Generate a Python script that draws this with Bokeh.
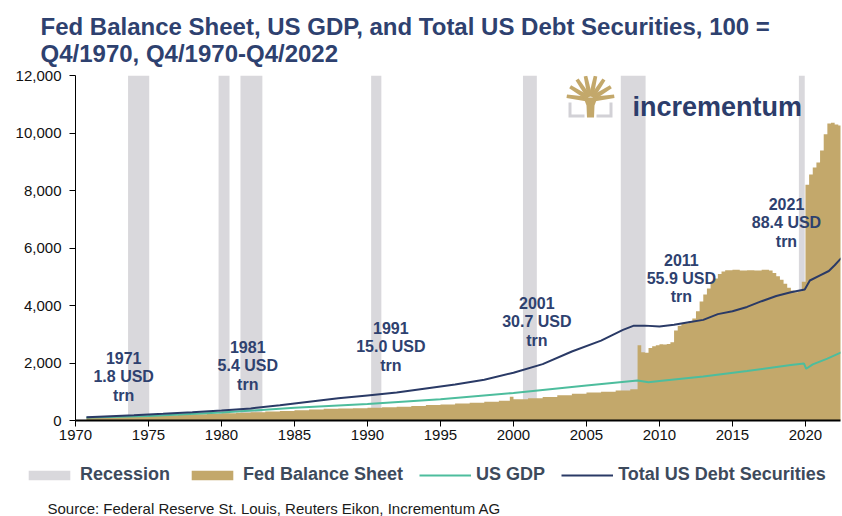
import numpy as np
from bokeh.plotting import figure
from bokeh.layouts import column
from bokeh.models import (Range1d, FixedTicker, NumeralTickFormatter, Label, Legend,
                          LegendItem, PolyAnnotation, Title)
from bokeh.embed import file_html
from bokeh.resources import INLINE

# ---------------- data (index, 100 = Q4/1970) ----------------
rec_start = [1973.6, 1979.8, 1981.3, 1990.25, 2000.65, 2007.35, 2019.55]
rec_end = [1975.05, 1980.55, 1982.8, 1990.95, 2001.6, 2009.05, 2019.95]

fed_dates = [1970.75, 1972.0, 1973.0, 1974.0, 1975.0, 1976.0, 1977.0, 1978.0, 1979.0,
             1980.0, 1981.0, 1982.0, 1983.0, 1984.0, 1985.0, 1986.0, 1987.0, 1988.0,
             1989.0, 1990.0, 1991.0, 1992.0, 1993.0, 1994.0, 1995.0, 1996.0, 1997.0,
             1998.0, 1999.0, 1999.75, 2000.0, 2001.0, 2002.0, 2003.0, 2004.0, 2005.0,
             2006.0, 2007.0, 2008.0, 2008.5, 2008.75, 2009.0, 2009.25, 2009.5, 2009.75,
             2010.0, 2010.25, 2010.5, 2010.75, 2011.0, 2011.25, 2011.5, 2011.75, 2012.0,
             2012.25, 2012.5, 2012.75, 2013.0, 2013.25, 2013.5, 2013.75, 2014.0, 2014.25,
             2014.5, 2015.0, 2015.5, 2016.0, 2016.5, 2017.0, 2017.5, 2017.75, 2018.0,
             2018.25, 2018.5, 2018.75, 2019.0, 2019.25, 2019.5, 2019.75, 2020.0, 2020.25,
             2020.5, 2020.75, 2021.0, 2021.25, 2021.5, 2021.75, 2022.0, 2022.25, 2022.5]
fed_values = [100, 120, 135, 150, 165, 180, 195, 215, 235,
              255, 270, 290, 310, 330, 360, 385, 405, 420,
              430, 440, 460, 480, 505, 535, 560, 590, 615,
              650, 690, 830, 740, 770, 820, 880, 930, 970,
              1000, 1040, 1090, 2620, 2370, 2360, 2520, 2580, 2620,
              2650, 2640, 2660, 2720, 3130, 3300, 3380, 3380, 3450,
              3550, 3800, 4140, 4380, 4590, 4800, 4940, 5100, 5180,
              5230, 5240, 5220, 5230, 5220, 5240, 5220, 5130, 5020,
              4900, 4760, 4620, 4520, 4460, 4500, 4830, 8200, 8560,
              8800, 8970, 9390, 9960, 10330, 10360, 10300, 10260, 10200]

gdp_dates = [1970.75, 1975.0, 1980.0, 1985.0, 1990.0, 1995.0, 2000.0, 2005.0, 2008.5,
             2009.25, 2010.0, 2013.0, 2016.0, 2019.0, 2019.9, 2020.05, 2020.5, 2021.5,
             2022.45]
gdp_values = [100, 160, 280, 440, 570, 740, 960, 1220, 1390,
              1330, 1370, 1530, 1720, 1930, 1980, 1800, 1950, 2150,
              2370]

debt_dates = [1970.75, 1972.0, 1974.0, 1976.0, 1978.0, 1980.0, 1982.0, 1984.0, 1986.0,
              1988.0, 1990.0, 1992.0, 1994.0, 1996.0, 1998.0, 2000.0, 2002.0, 2004.0,
              2006.0, 2007.5, 2008.25, 2009.0, 2010.0, 2011.0, 2012.0, 2013.0, 2014.0,
              2015.0, 2016.0, 2017.0, 2018.0, 2019.0, 2019.95, 2020.3, 2021.0, 2021.6,
              2022.0, 2022.45]
debt_values = [110, 140, 185, 235, 290, 350, 420, 530, 650,
               770, 870, 970, 1110, 1250, 1420, 1660, 1960, 2400,
               2780, 3150, 3300, 3300, 3270, 3330, 3420, 3500, 3700,
               3800, 3950, 4150, 4330, 4460, 4560, 4870, 5050, 5200,
               5400, 5650]

ann_years = ["1971", "1981", "1991", "2001", "2011", "2021"]
ann_amounts = [1.8, 5.4, 15.0, 30.7, 55.9, 88.4]

x_ticks = [1970, 1975, 1980, 1985, 1990, 1995, 2000, 2005, 2010, 2015, 2020]
y_ticks = [0, 2000, 4000, 6000, 8000, 10000, 12000]

title_lines = ["Fed Balance Sheet, US GDP, and Total US Debt Securities, 100 =",
               "Q4/1970, Q4/1970-Q4/2022"]
series_names = ["Recession", "Fed Balance Sheet", "US GDP", "Total US Debt Securities"]
source_text = "Source: Federal Reserve St. Louis, Reuters Eikon, Incrementum AG"

# ---------------- layout / style ----------------
W, H1, H2 = 842, 461, 55
L, R, T, B = 75, 840, 75, 420
X0, X1 = 1970, 2022.4
Y0, Y1 = 0, 12000

NAVY_T = "#2E416F"
GOLD = "#C3A86B"
GREY = "#D9D8DC"
TEAL = "#4DBD9D"
NAVY = "#2A3A66"
LEG_TXT = "#3D4A5C"
FONT = "Liberation Sans"


def sx(cx):
    return cx - L


def sy(cy):
    return B - cy


def fed_step(dates, values):
    edges = np.array(list(dates) + [dates[-1] + 0.25])
    v = np.array(values, dtype=float)
    return np.repeat(edges, 2)[1:-1], np.repeat(v, 2)


def add_series(fig):
    r1 = fig.quad(left=rec_start, right=rec_end, bottom=Y0, top=Y1,
                  fill_color=GREY, line_color=None)
    fx, fy = fed_step(fed_dates, fed_values)
    r2 = fig.varea(x=fx, y1=np.zeros_like(fy), y2=fy, fill_color=GOLD)
    r3 = fig.line(gdp_dates, gdp_values, line_color=TEAL, line_width=2)
    r4 = fig.line(debt_dates, debt_values, line_color=NAVY, line_width=2)
    return [r1, r2, r3, r4]


p = figure(width=W, height=H1, x_range=Range1d(X0, X1), y_range=Range1d(Y0, Y1),
           output_backend="svg", toolbar_location=None, title=None,
           min_border_left=L, min_border_right=W - R, min_border_top=T,
           min_border_bottom=H1 - B, frame_align=False)
p.outline_line_color = None
p.xgrid.visible = False
p.ygrid.visible = False
p.background_fill_color = "white"
p.border_fill_color = "white"

add_series(p)

# axes
p.xaxis.ticker = FixedTicker(ticks=x_ticks)
p.yaxis.ticker = FixedTicker(ticks=y_ticks)
p.yaxis.formatter = NumeralTickFormatter(format="0,0")
for ax in (p.xaxis[0], p.yaxis[0]):
    ax.axis_line_color = "black"
    ax.major_tick_line_color = "black"
    ax.minor_tick_line_color = None
    ax.major_tick_in = 0
    ax.major_label_text_font = FONT
    ax.major_label_text_font_size = "15px"
    ax.major_label_text_color = "#111111"
p.xaxis.axis_line_width = 2
p.xaxis.major_tick_out = 6
p.xaxis.major_label_standoff = 3
p.yaxis.major_tick_out = 6
p.yaxis.major_label_standoff = 8

# two-line title
p.add_layout(Title(text="\n".join(title_lines), align="left", offset=40 - L, standoff=17,
                   text_font=FONT, text_font_style="bold", text_font_size="24px",
                   text_line_height=1.0, text_color=NAVY_T), "above")

# annotations
ann_x = [1973.3, 1981.8, 1991.6, 2001.6, 2011.5, 2018.7]
ann_y = [1530, 1910, 2570, 3440, 4940, 6870]
for yr, amt, ax_, ay_ in zip(ann_years, ann_amounts, ann_x, ann_y):
    for txt, off in ((yr, 18.5), (f"{amt:.1f} USD", 0), ("trn", -18.5)):
        p.add_layout(Label(x=ax_, y=ay_, y_offset=off, text=txt, text_font=FONT,
                           text_font_style="bold", text_font_size="16px",
                           text_color=NAVY_T, text_align="center",
                           text_baseline="middle"))

# logo
cx, cy = 590, 99
angles = np.radians([8, 32, 56, 78, 102, 124, 148, 172])
for a in angles:
    ux, uy = -np.cos(a), -np.sin(a)
    px_, py_ = -uy, ux
    ln = 24
    bx, by = cx + ux * 3, cy + uy * 3
    tx, ty = cx + ux * ln, cy + uy * ln
    wb, wt = 2.4, 1.8
    pts_x = [bx + px_ * wb, tx + px_ * wt, tx - px_ * wt, bx - px_ * wb]
    pts_y = [by + py_ * wb, ty + py_ * wt, ty - py_ * wt, by - py_ * wb]
    p.add_layout(PolyAnnotation(xs=[sx(v) for v in pts_x], ys=[sy(v) for v in pts_y],
                                xs_units="screen", ys_units="screen",
                                fill_color=GOLD, fill_alpha=1, line_alpha=0))
trunk_x = [586.5, 593.5, 594, 597, 583, 586]
trunk_y = [117, 117, 105, 97, 97, 105]
p.add_layout(PolyAnnotation(xs=[sx(v) for v in trunk_x], ys=[sy(v) for v in trunk_y],
                            xs_units="screen", ys_units="screen",
                            fill_color=GOLD, fill_alpha=1, line_alpha=0))
for bxs in ([568, 571, 571, 584, 584, 568], [612, 609, 609, 596, 596, 612]):
    bys = [102, 102, 114, 114, 117, 117]
    p.add_layout(PolyAnnotation(xs=[sx(v) for v in bxs], ys=[sy(v) for v in bys],
                                xs_units="screen", ys_units="screen",
                                fill_color="#D2D1D6", fill_alpha=1, line_alpha=0))
p.add_layout(Label(x=sx(632), y=sy(106), x_units="screen", y_units="screen",
                   text="incrementum", text_font=FONT, text_font_style="bold",
                   text_font_size="27px", text_color="#2C3D6B",
                   text_baseline="alphabetic", text_align="left"))

# ---------------- bottom strip: legend + source ----------------
# same series drawn again (off-range here) only to feed the legend swatches
q = figure(width=W, height=H2, x_range=Range1d(0, W), y_range=Range1d(0, H2),
           output_backend="svg", toolbar_location=None, title=None,
           x_axis_type=None, y_axis_type=None, frame_align=False,
           min_border_left=0, min_border_right=0, min_border_top=0, min_border_bottom=0)
q.outline_line_color = None
q.xgrid.visible = False
q.ygrid.visible = False
q.background_fill_color = "white"
q.border_fill_color = "white"

proxies = add_series(q)

legend = Legend(items=[LegendItem(label=n, renderers=[r])
                       for n, r in zip(series_names, proxies)],
                orientation="horizontal", location=(23, H2 - 24),
                padding=0, margin=0, spacing=16, glyph_width=52, glyph_height=12,
                label_standoff=5, label_text_font=FONT, label_text_font_style="bold",
                label_text_font_size="18px", label_text_color=LEG_TXT,
                border_line_color=None, background_fill_alpha=0)
q.add_layout(legend)

q.add_layout(Label(x=47, y=H2 - 47, x_units="screen", y_units="screen",
                   text=source_text, text_font=FONT, text_font_size="15px",
                   text_color="#1a1a1a", text_baseline="middle", text_align="left"))

open("out.html", "w").write(file_html(column(p, q, spacing=0), INLINE))
